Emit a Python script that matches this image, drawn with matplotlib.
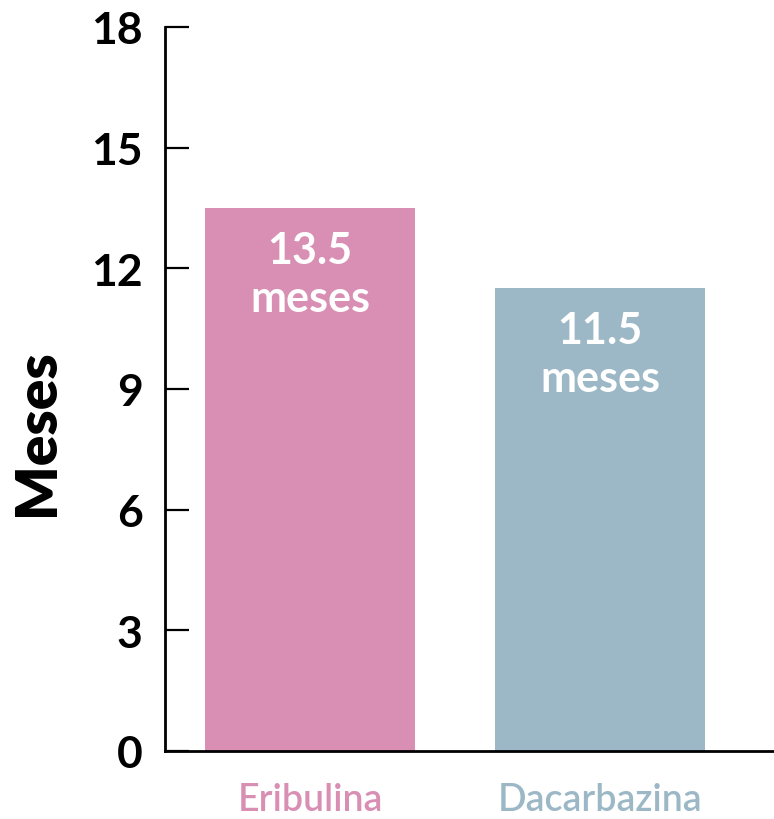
import matplotlib
matplotlib.use("Agg")
import matplotlib.pyplot as plt

categories = ["Eribulina", "Dacarbazina"]
values = [13.5, 11.5]
value_labels = ["13.5", "11.5"]
unit_label = "meses"
colors = ["#D88FB3", "#9CB8C6"]
yticks = [0, 3, 6, 9, 12, 15, 18]

plt.rcParams['font.family'] = ['Lato', 'DejaVu Sans']

fig = plt.figure(figsize=(7.74, 8.2), dpi=100)
ax = fig.add_axes([165/774, 68/820, 609/774, 724/820])

x = list(range(len(categories)))
bars = ax.bar(x, values, width=0.724, color=colors)

ax.set_xlim(-0.5, 1.6)
ax.set_ylim(0, 18)
ax.set_yticks(yticks)
ax.set_yticklabels([str(t) for t in yticks], fontsize=32, fontweight='bold')
ax.tick_params(axis='y', direction='in', length=17, width=1.6, pad=16, colors='black')
ax.set_xticks(x)
ax.set_xticklabels(categories, fontsize=27, fontweight='semibold')
for lbl, c in zip(ax.get_xticklabels(), colors):
    lbl.set_color(c)
ax.tick_params(axis='x', length=0, pad=22)

for s in ['top', 'right']:
    ax.spines[s].set_visible(False)
for s in ['left', 'bottom']:
    ax.spines[s].set_linewidth(2)
    ax.spines[s].set_color('black')

for xi, v, lab in zip(x, values, value_labels):
    ax.annotate(lab, xy=(xi, v), xytext=(0, -42), textcoords='offset pixels',
                ha='center', va='center', color='white', fontsize=31,
                fontweight='bold')
    ax.annotate(unit_label, xy=(xi, v), xytext=(0, -90), textcoords='offset pixels',
                ha='center', va='center', color='white', fontsize=31,
                fontweight='bold')

fig.text(37/774, (820-433)/820, "Meses", rotation=90, ha='center', va='center',
         fontsize=41, fontweight='heavy')

fig.savefig("out.png", dpi=100)
